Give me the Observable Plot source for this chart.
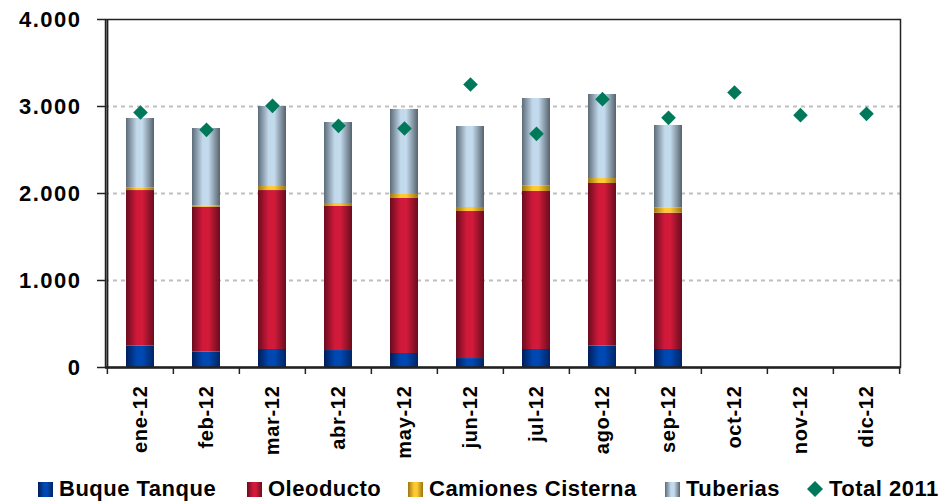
<!DOCTYPE html>
<html>
<head>
<meta charset="utf-8">
<script src="https://cdn.jsdelivr.net/npm/d3@7"></script>
<script src="https://cdn.jsdelivr.net/npm/@observablehq/plot@0.6"></script>
<style>
  html, body { margin: 0; padding: 0; background: #fff; overflow: hidden; }
  #chart { width: 942px; height: 470px; }
  #legend { position: relative; width: 942px; height: 31px; font-family: "Liberation Sans", Arial, sans-serif; font-weight: bold; font-size: 22px; color: #000; }
  .item { position: absolute; top: 6px; display: flex; align-items: center; white-space: nowrap; letter-spacing: 0.5px; }
  .sw { width: 15px; height: 15px; margin-right: 6px; }
  svg text { font-family: "Liberation Sans", Arial, sans-serif; }
  g[aria-label="y-axis tick label"] text { letter-spacing: 1.5px; }
  g[aria-label="x-axis tick label"] text { letter-spacing: 0.7px; }
</style>
</head>
<body>
<div id="chart"></div>
<div id="legend"></div>
<script>
// ---- data ----
const months = ["ene-12","feb-12","mar-12","abr-12","may-12","jun-12","jul-12","ago-12","sep-12","oct-12","nov-12","dic-12"];
const seriesNames = ["Buque Tanque","Oleoducto","Camiones Cisterna","Tuberias"];
const buqueTanque = [245,176,207,195,161,103,207,245,207];
const oleoducto   = [1789,1667,1827,1656,1782,1690,1816,1870,1567];
const camiones    = [32,15,46,34,46,46,61,57,61];
const tuberias    = [796,889,920,931,977,931,1008,966,947];
const total2011   = [2931,2732,3008,2778,2747,3253,2686,3084,2870,3161,2900,2916];
const yTicks = [0,1000,2000,3000,4000];

// ---- styling ----
const gradients = {
  "g-blue":   ["#001d5a", "#0047b0", "#0049b4", "#002565"],
  "g-red":    ["#6a0c1e", "#d0193a", "#d21b3b", "#6a0c1e"],
  "g-yellow": ["#9c7612", "#ffc832", "#ffca35", "#9a7410"],
  "g-pipe":   ["#5c6b78", "#c2d9ec", "#c4dbee", "#56626c"]
};
const gradIds = ["g-blue","g-red","g-yellow","g-pipe"];
const green = "#00795a";

const W = 942, H = 470, mL = 105, mR = 42, mT = 19, mB = 103;
const step = (W - mL - mR) / months.length;

const seriesValues = [buqueTanque, oleoducto, camiones, tuberias];
const stacked = [];
seriesNames.forEach((s, i) => {
  seriesValues[i].forEach((v, j) => stacked.push({month: months[j], series: s, value: v}));
});
const totals = total2011.map((v, j) => ({month: months[j], value: v}));

const fmt = d => d3.format(",")(d).replace(/,/g, ".");

const chart = Plot.plot({
  width: W, height: H,
  marginLeft: mL, marginRight: mR, marginTop: mT, marginBottom: mB,
  style: {fontFamily: '"Liberation Sans", Arial, sans-serif', fontWeight: "bold", color: "#000", background: "#fff"},
  x: {domain: months, paddingInner: 0.58, paddingOuter: 0.29, label: null},
  y: {domain: [0, 4000], label: null},
  color: {domain: seriesNames, range: gradIds.map(id => `url(#${id})`)},
  marks: [
    Plot.gridY([1000, 2000, 3000], {stroke: "#c0c0c0", strokeOpacity: 1, strokeWidth: 2, strokeDasharray: "4,4"}),
    Plot.barY(stacked, {x: "month", y: "value", fill: "series"}),
    Plot.dot(totals, {x: "month", y: "value", symbol: "diamond2", fill: green, r: 6.6}),
    Plot.frame({stroke: "#222", strokeWidth: 1.5}),
    Plot.ruleY([0], {stroke: "#222", strokeWidth: 2.5}),
    Plot.ruleX([months[0]], {stroke: "#222", strokeWidth: 2, dx: -step / 2}),
    Plot.axisY({ticks: yTicks, tickFormat: fmt, tickSize: 8, tickPadding: 16, fontSize: 22, fontWeight: "bold", stroke: "#222", strokeWidth: 1.5}),
    Plot.axisX({tickSize: 0, tickRotate: -90, tickPadding: 18, fontSize: 20, fontWeight: "bold"}),
    Plot.axisX({tickSize: 7, tickFormat: () => "", dx: -step / 2, stroke: "#222", strokeWidth: 1.5}),
    Plot.axisX({ticks: [months[months.length - 1]], tickSize: 7, tickFormat: () => "", dx: step / 2, stroke: "#222", strokeWidth: 1.5})
  ]
});

// gradient definitions for the cylinder-like shading
const svg = d3.select(chart.tagName.toLowerCase() === "svg" ? chart : chart.querySelector("svg"));
const defs = svg.insert("defs", ":first-child");
Object.entries(gradients).forEach(([id, c]) => {
  const g = defs.append("linearGradient").attr("id", id).attr("x1", "0").attr("x2", "1").attr("y1", "0").attr("y2", "0");
  g.append("stop").attr("offset", "0%").attr("stop-color", c[0]);
  g.append("stop").attr("offset", "38%").attr("stop-color", c[1]);
  g.append("stop").attr("offset", "58%").attr("stop-color", c[2]);
  g.append("stop").attr("offset", "100%").attr("stop-color", c[3]);
});
document.getElementById("chart").appendChild(chart);

// legend (HTML)
const legend = d3.select("#legend");
const lefts = [38, 247, 408, 665, 806];
seriesNames.forEach((s, i) => {
  const c = gradients[gradIds[i]];
  const it = legend.append("div").attr("class", "item").style("left", lefts[i] + "px");
  it.append("div").attr("class", "sw")
    .style("background", `linear-gradient(to right, ${c[0]} 0%, ${c[1]} 40%, ${c[2]} 60%, ${c[3]} 100%)`);
  it.append("span").text(s);
});
const it = legend.append("div").attr("class", "item").style("left", lefts[4] + "px");
it.append("svg").attr("width", 18).attr("height", 18).style("margin-right", "5px")
  .append("path").attr("d", "M9,1L17,9L9,17L1,9Z").attr("fill", green);
it.append("span").text("Total 2011");
</script>
</body>
</html>
